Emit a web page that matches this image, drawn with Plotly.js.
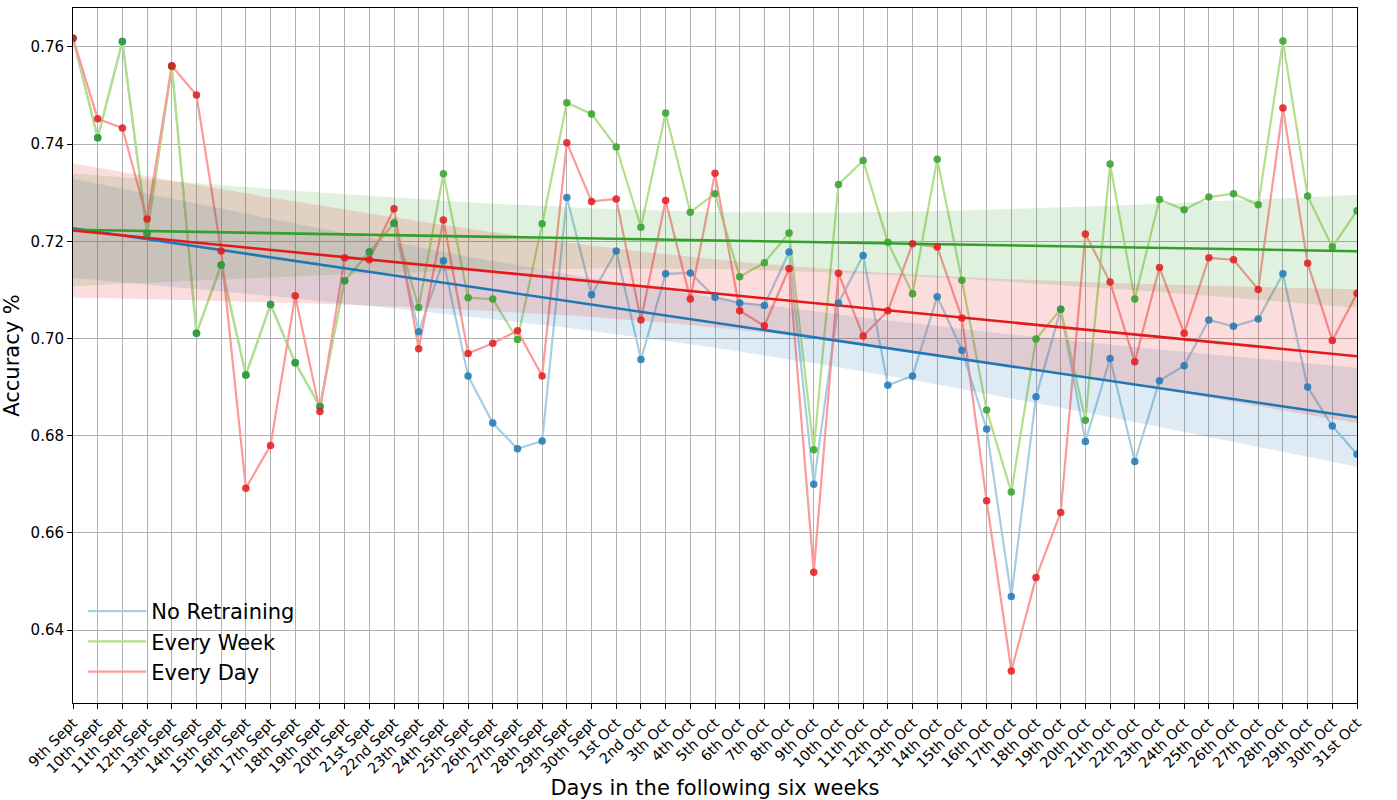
<!DOCTYPE html>
<html>
<head>
<meta charset="utf-8">
<script src="https://cdn.plot.ly/plotly-3.0.1.min.js"></script>
<style>html,body{margin:0;padding:0;background:#fff;}#chart{width:1397px;height:800px;}</style>
</head>
<body>
<div id="chart"></div>
<script>
const days = ["9th Sept","10th Sept","11th Sept","12th Sept","13th Sept","14th Sept","15th Sept","16th Sept","17th Sept","18th Sept","19th Sept","20th Sept","21st Sept","22nd Sept","23th Sept","24th Sept","25th Sept","26th Sept","27th Sept","28th Sept","29th Sept","30th Sept",
"1st Oct","2nd Oct","3th Oct","4th Oct","5th Oct","6th Oct","7th Oct","8th Oct","9th Oct","10th Oct","11th Oct","12th Oct","13th Oct","14th Oct","15th Oct","16th Oct","17th Oct","18th Oct","19th Oct","20th Oct","21th Oct","22th Oct","23th Oct","24th Oct","25th Oct","26th Oct","27th Oct","28th Oct","29th Oct","30th Oct","31st Oct"];

const noRetraining = [0.7618,0.7413,0.7611,0.7216,0.756,0.7011,0.7151,0.6925,0.707,0.695,0.686,0.7119,0.7178,0.7237,0.7014,0.716,0.6923,0.6826,0.6773,0.6789,0.729,0.709,0.718,0.6957,0.7133,0.7135,0.7085,0.7073,0.7068,0.7178,0.670,0.7073,0.7171,0.6904,0.6923,0.7086,0.6976,0.6814,0.6469,0.688,0.706,0.6788,0.6959,0.6747,0.6913,0.6944,0.7038,0.7025,0.704,0.7133,0.690,0.682,0.6762];

const everyWeek = [0.7618,0.7413,0.7611,0.7216,0.756,0.7011,0.7151,0.6925,0.707,0.695,0.686,0.7119,0.7178,0.7237,0.7064,0.7339,0.7084,0.7081,0.6998,0.7236,0.7485,0.7462,0.7394,0.7229,0.7464,0.726,0.7298,0.7127,0.7156,0.7217,0.6771,0.7317,0.7366,0.7198,0.7092,0.7369,0.712,0.6853,0.6684,0.6999,0.706,0.6832,0.7359,0.7081,0.7286,0.7265,0.7291,0.7298,0.7275,0.7612,0.7293,0.7188,0.7263];

const everyDay = [0.7618,0.7452,0.7433,0.7246,0.7561,0.7501,0.718,0.6692,0.678,0.7088,0.685,0.7166,0.7162,0.7267,0.6979,0.7244,0.6969,0.699,0.7016,0.6923,0.7403,0.7282,0.7287,0.7038,0.7284,0.7081,0.734,0.7057,0.7026,0.7144,0.6519,0.7134,0.7005,0.7057,0.7195,0.7188,0.7042,0.6666,0.6316,0.6508,0.6642,0.7215,0.7116,0.6952,0.7146,0.7011,0.7166,0.7162,0.7101,0.7474,0.7155,0.6996,0.7093];

const seriesNames = ["No Retraining","Every Week","Every Day"];
const lightColors = ["#a6cee3","#b2df8a","#fb9a99"];
const darkColors = ["#1f78b4","#33a02c","#e31a1c"];
const bandColors = ["rgba(31,120,180,0.15)","rgba(51,160,44,0.15)","rgba(227,26,28,0.15)"];

const xs = days.map((d,i)=>i);
const allSeries = [noRetraining, everyWeek, everyDay];

function regress(y){
  const n = y.length;
  const xm = xs.reduce((a,b)=>a+b,0)/n;
  const ym = y.reduce((a,b)=>a+b,0)/n;
  let sxx=0, sxy=0;
  for(let i=0;i<n;i++){sxx+=(xs[i]-xm)**2; sxy+=(xs[i]-xm)*(y[i]-ym);}
  const b = sxy/sxx, a = ym - b*xm;
  let sse=0;
  for(let i=0;i<n;i++){sse+=(y[i]-(a+b*xs[i]))**2;}
  const s = Math.sqrt(sse/(n-2));
  const t = 2.0076;
  const fit=[], up=[], lo=[];
  for(let i=0;i<n;i++){
    const yh=a+b*xs[i];
    const h=t*s*Math.sqrt(1/n+(xs[i]-xm)**2/sxx);
    fit.push(yh); up.push(yh+h); lo.push(yh-h);
  }
  return {fit,up,lo};
}

const traces = [];
allSeries.forEach((y,k)=>{
  traces.push({x:xs,y:y,type:'scatter',mode:'lines',name:seriesNames[k],
    line:{color:lightColors[k],width:2.2},hoverinfo:'skip'});
});
const fits = allSeries.map(regress);
fits.forEach((f,k)=>{
  traces.push({x:xs.concat(xs.slice().reverse()),y:f.up.concat(f.lo.slice().reverse()),
    type:'scatter',mode:'lines',fill:'toself',fillcolor:bandColors[k],line:{width:0,color:'rgba(0,0,0,0)'},
    showlegend:false,hoverinfo:'skip'});
});
fits.forEach((f,k)=>{
  traces.push({x:xs,y:f.fit,type:'scatter',mode:'lines',line:{color:darkColors[k],width:2.6},showlegend:false,hoverinfo:'skip'});
});
allSeries.forEach((y,k)=>{
  traces.push({x:xs,y:y,type:'scatter',mode:'markers',marker:{color:darkColors[k],size:7.5,opacity:0.85},
    showlegend:false});
});

const ff = '"DejaVu Sans", sans-serif';
const layout = {
  width:1397,height:800,
  margin:{l:73,r:40,t:8,b:97},
  paper_bgcolor:'#fff',plot_bgcolor:'#fff',
  font:{family:ff,color:'#000'},
  showlegend:true,
  legend:{x:0.008,y:0.016,xanchor:'left',yanchor:'bottom',bgcolor:'rgba(255,255,255,0)',
    font:{family:ff,size:21,color:'#000'},tracegroupgap:0,itemwidth:58},
  xaxis:{range:[0,52],tickmode:'array',tickvals:xs,ticktext:days,tickangle:-45,
    tickfont:{family:ff,size:14.5,color:'#000'},automargin:false,
    showgrid:true,gridcolor:'#b0b0b0',gridwidth:1,zeroline:false,
    showline:true,linecolor:'#000',linewidth:1,mirror:true,ticks:'outside',ticklen:5,tickcolor:'#000',
    title:{text:'Days in the following six weeks',font:{family:ff,size:21,color:'#000'},standoff:6}},
  yaxis:{range:[0.625,0.768],tick0:0.64,dtick:0.02,tickformat:'.2f',automargin:false,
    tickfont:{family:ff,size:15,color:'#000'},
    showgrid:true,gridcolor:'#b0b0b0',gridwidth:1,zeroline:false,
    showline:true,linecolor:'#000',linewidth:1,mirror:true,ticks:'outside',ticklen:5,tickcolor:'#000',
    title:{text:'Accuracy %',font:{family:ff,size:21,color:'#000'},standoff:8}}
};
Plotly.newPlot('chart',traces,layout,{displayModeBar:false,staticPlot:true});
</script>
</body>
</html>
